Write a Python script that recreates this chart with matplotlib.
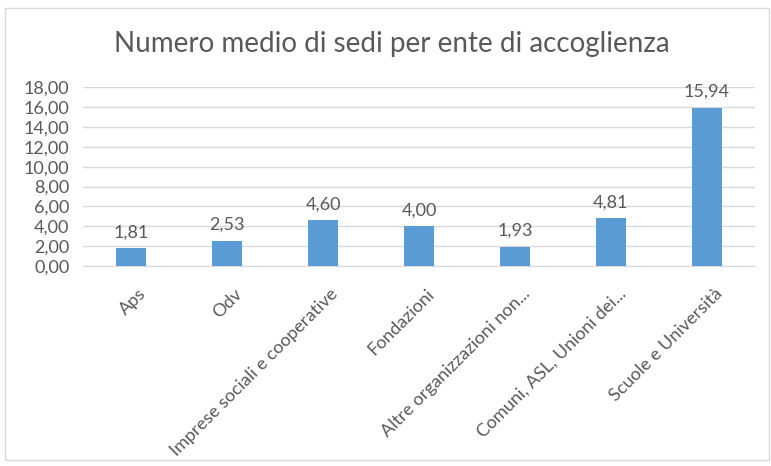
import matplotlib.pyplot as plt
import matplotlib.transforms as mtransforms
from matplotlib.patches import Rectangle

categories = ["Aps", "Odv", "Imprese sociali e cooperative", "Fondazioni",
              "Altre organizzazioni non...", "Comuni, ASL, Unioni dei...",
              "Scuole e Università"]
values = [1.81, 2.53, 4.60, 4.00, 1.93, 4.81, 15.94]
yticks = [0, 2, 4, 6, 8, 10, 12, 14, 16, 18]

plt.rcParams['font.family'] = ['Lato', 'DejaVu Sans']
grey = '#595959'

fig = plt.figure(figsize=(7.71, 4.66), dpi=100)
ax = fig.add_axes([0.108, 0.429, 0.871, 0.384])

x = range(len(categories))
ax.bar(x, values, width=0.31, color='#5b9bd5', zorder=3)
for xi, v in zip(x, values):
    ax.text(xi, v + 0.8, f"{v:.2f}".replace('.', ','), ha='center', va='bottom',
            fontsize=13, color=grey)

ax.set_xlim(-0.5, len(categories) - 0.5)
ax.set_ylim(0, 18)
ax.set_yticks(yticks)
ax.set_yticklabels([f"{t:.2f}".replace('.', ',') for t in yticks], fontsize=13, color=grey)
ax.set_xticks(list(x))
ax.set_xticklabels(categories, rotation=45, ha='right', rotation_mode='anchor',
                   fontsize=13, color=grey)
ax.tick_params(axis='y', length=0, pad=10)
ax.tick_params(axis='x', length=0, pad=14)
# nudge rotated labels to the right, like Excel does
shift = mtransforms.ScaledTranslation(7 / 100, 0, fig.dpi_scale_trans)
for lbl in ax.get_xticklabels():
    lbl.set_transform(lbl.get_transform() + shift)
ax.yaxis.grid(True, color='#d9d9d9', linewidth=1, zorder=0)
for s in ['top', 'right', 'left']:
    ax.spines[s].set_visible(False)
ax.spines['bottom'].set_color('#d9d9d9')

fig.text(0.508, 0.905, "Numero medio di sedi per ente di accoglienza", ha='center',
         va='center', fontsize=20, color=grey)

fig.patches.append(Rectangle((0.007, 0.013), 0.99, 0.97, transform=fig.transFigure,
                             fill=False, edgecolor='#d9d9d9', linewidth=1))

fig.savefig('out.png', dpi=100)
